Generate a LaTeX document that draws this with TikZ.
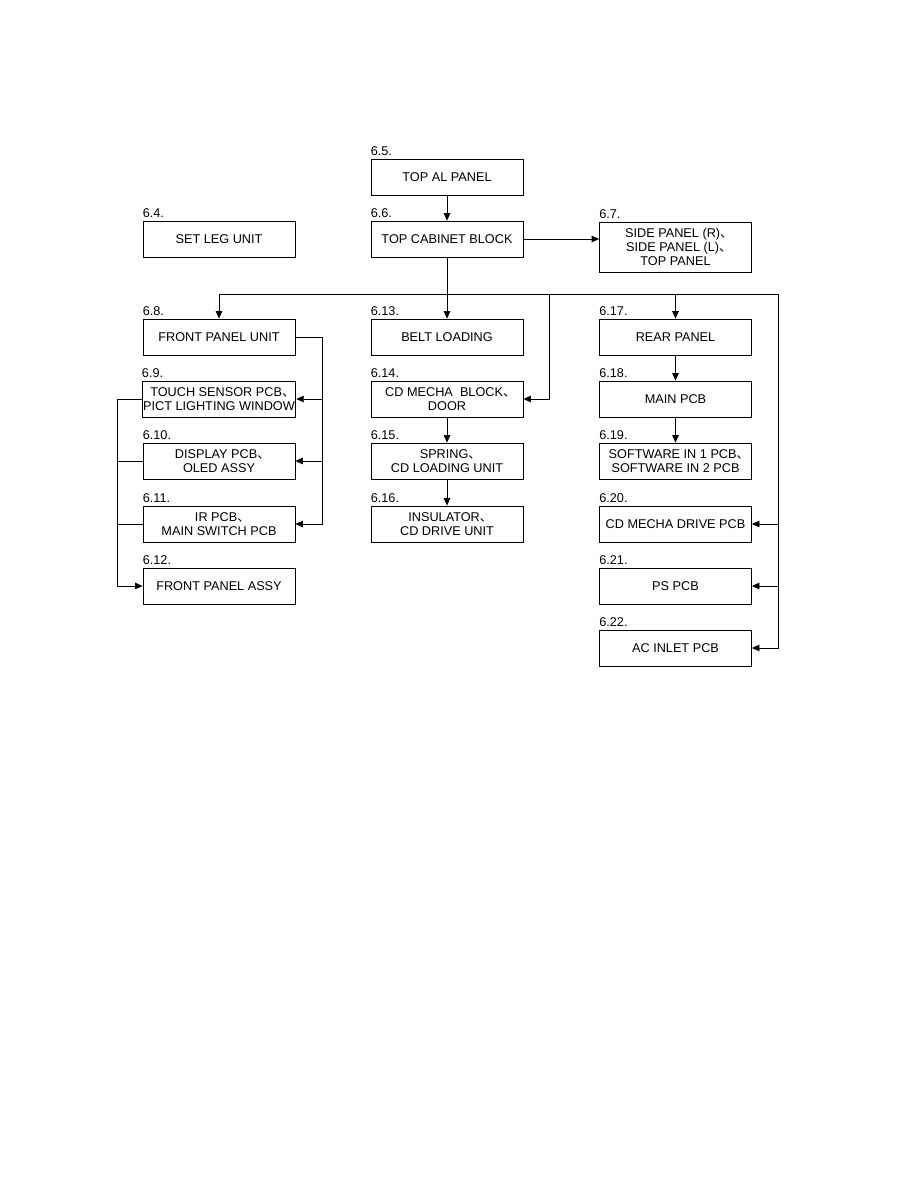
\documentclass[tikz,border=0pt]{standalone}
\usepackage{fontspec}
\setmainfont{Liberation Sans}
\newfontfamily\cjk{Noto Sans CJK SC}
\usetikzlibrary{arrows.meta}
\newcommand{\dn}{\makebox[0.45em][l]{\cjk 、}}
\begin{document}
\begin{tikzpicture}[x=1pt,y=-1pt,
  blk/.style={draw,line width=0.8pt,minimum width=152pt,minimum height=36pt,inner sep=1pt,align=center,font=\fontsize{12.7}{14}\selectfont},
  lbl/.style={anchor=base west,inner sep=0pt,font=\fontsize{12.7}{14}\selectfont},
  ln/.style={line width=0.8pt},
  arr/.style={line width=0.8pt,-{Triangle[length=7.5pt,width=6.5pt]}}]
\useasboundingbox (0,0) rectangle (918,1188);
% column 1
\node[blk] (b64) at (219,239) {SET LEG UNIT};
\node[blk] (b68) at (219,337) {FRONT PANEL UNIT};
\node[blk] (b69) at (219,399) {TOUCH SENSOR PCB\dn\\PICT LIGHTING WINDOW};
\node[blk] (b610) at (219,461) {DISPLAY PCB\dn\\OLED ASSY};
\node[blk] (b611) at (219,524) {IR PCB\dn\\MAIN SWITCH PCB};
\node[blk] (b612) at (219,586) {FRONT PANEL ASSY};
% column 2
\node[blk] (b65) at (447,177) {TOP AL PANEL};
\node[blk] (b66) at (447,239) {TOP CABINET BLOCK};
\node[blk] (b613) at (447,337) {BELT LOADING};
\node[blk] (b614) at (447,399) {CD MECHA\ \ BLOCK\dn\\DOOR};
\node[blk] (b615) at (447,461) {SPRING\dn\\CD LOADING UNIT};
\node[blk] (b616) at (447,524) {INSULATOR\dn\\CD DRIVE UNIT};
% column 3
\node[blk,minimum height=50pt] (b67) at (675.5,247) {SIDE PANEL (R)\dn\\SIDE PANEL (L)\dn\\TOP PANEL};
\node[blk] (b617) at (675.5,337) {REAR PANEL};
\node[blk] (b618) at (675.5,399) {MAIN PCB};
\node[blk] (b619) at (675.5,461) {SOFTWARE IN 1 PCB\dn\\SOFTWARE IN 2 PCB};
\node[blk] (b620) at (675.5,524) {CD MECHA DRIVE PCB};
\node[blk] (b621) at (675.5,586) {PS PCB};
\node[blk] (b622) at (675.5,648) {AC INLET PCB};
% labels
\foreach \n/\t in {b64/6.4.,b65/6.5.,b66/6.6.,b67/6.7.,b68/6.8.,b69/6.9.,b610/6.10.,b611/6.11.,b612/6.12.,b613/6.13.,b614/6.14.,b615/6.15.,b616/6.16.,b617/6.17.,b618/6.18.,b619/6.19.,b620/6.20.,b621/6.21.,b622/6.22.}
  \node[lbl] (l\n) at ([yshift=3.5pt]\n.north west) {\t};
% junction coordinates
\coordinate (busL) at (219,294);
\coordinate (busR) at (778,294);
\coordinate (j614) at (549,294);
\coordinate (fr) at (322,337);
\coordinate (frb) at (322,524);
\coordinate (lf) at (117,399);
\coordinate (lfb) at (117,586);
% connectors
\draw[arr] (b65) -- (b66);
\draw[arr] (b66.east) -- (b66.east -| b67.west);
\draw[arr] (b66) -- (b613);
\draw[ln] (busL) -- (busR);
\draw[arr] (busL) -- (b68.north);
\draw[arr] (j614) -- (j614 |- b614.east) -- (b614.east);
\draw[arr] (b617.north |- busL) -- (b617.north);
\draw[arr] (busR) -- (busR |- b622.east) -- (b622.east);
\draw[arr] (busR |- b620.east) -- (b620.east);
\draw[arr] (busR |- b621.east) -- (b621.east);
\draw[arr] (b617) -- (b618);
\draw[arr] (b618) -- (b619);
\draw[arr] (b614) -- (b615);
\draw[arr] (b615) -- (b616);
\draw[arr] (b68.east) -- (fr) -- (frb) -- (b611.east);
\draw[arr] (fr |- b69.east) -- (b69.east);
\draw[arr] (fr |- b610.east) -- (b610.east);
\draw[arr] (b69.west) -- (lf) -- (lfb) -- (b612.west);
\draw[ln] (b610.west) -- (lf |- b610.west);
\draw[ln] (b611.west) -- (lf |- b611.west);
\end{tikzpicture}
\end{document}
